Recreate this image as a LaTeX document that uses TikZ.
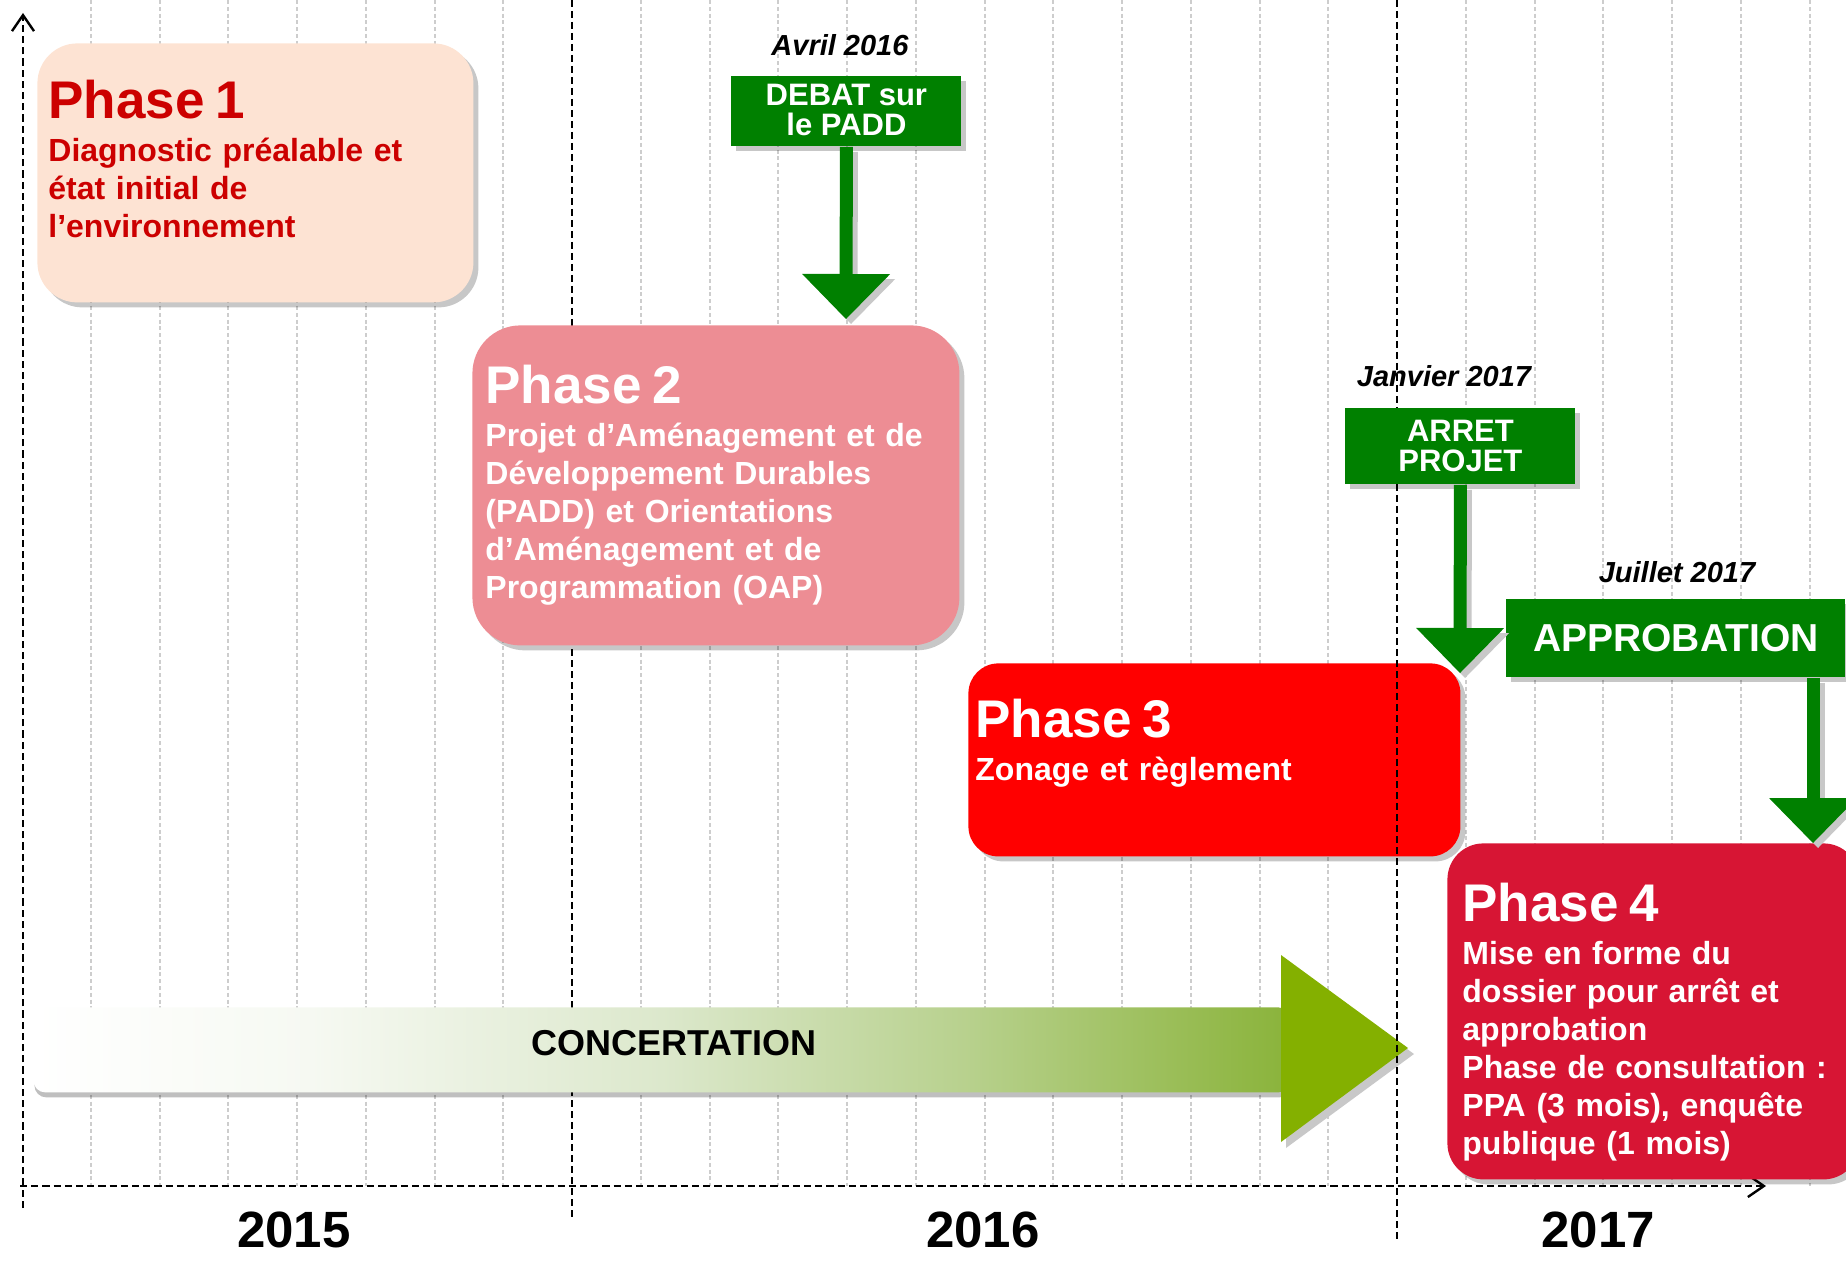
\documentclass[tikz,border=0pt]{standalone}
\usepackage{fontspec}
\setmainfont{Liberation Sans}
\usetikzlibrary{arrows.meta,shadows}

\definecolor{phaseonefill}{RGB}{253,227,211}
\definecolor{phaseonetext}{RGB}{204,0,0}
\definecolor{phasetwofill}{RGB}{237,141,148}
\definecolor{phasethreefill}{RGB}{255,0,0}
\definecolor{phasefourfill}{RGB}{215,21,52}
\definecolor{taggreen}{RGB}{0,128,0}
\definecolor{concerthead}{RGB}{132,176,0}
\definecolor{concertA}{RGB}{246,249,242}
\definecolor{concertB}{RGB}{220,232,204}
\definecolor{concertC}{RGB}{184,209,142}
\definecolor{concertD}{RGB}{138,179,58}
\definecolor{gridgray}{RGB}{205,205,205}
\definecolor{shadowgray}{RGB}{200,200,200}

\pgfdeclarehorizontalshading{concertshade}{100bp}{color(0bp)=(white); color(25bp)=(white); color(36bp)=(concertA); color(50bp)=(concertB); color(62bp)=(concertC); color(75bp)=(concertD); color(100bp)=(concertD)}

\newcommand{\phasetitle}[1]{{\fontsize{26.5}{29}\selectfont #1\par}\vspace{2.5pt}}

\begin{document}
\begin{tikzpicture}[x=0.5pt, y=-0.5pt,
    gridline/.style={gridgray, line width=1pt, dash pattern=on 2pt off 1.4pt},
    yearline/.style={black, line width=1pt, dash pattern=on 3.5pt off 2pt},
    axisline/.style={black, line width=1.2pt, dash pattern=on 3.6pt off 2pt, -{Straight Barb[length=8pt,width=11pt]}},
    boxshadow/.style={drop shadow={shadow xshift=2.5pt, shadow yshift=-2.5pt, opacity=0.22, fill=black}},
    phasebox/.style={anchor=north west, inner sep=0pt, boxshadow},
    phasetext/.style={anchor=north west, inner sep=0pt, text width=230pt, align=left, text=white, font=\bfseries\fontsize{16}{19}\selectfont},
    tagbox/.style={anchor=north west, inner sep=0pt, fill=taggreen, text=white, align=center, font=\bfseries\fontsize{15.5}{15}\selectfont, boxshadow},
    tagarrow/.style={taggreen, line width=6.5pt, -{Triangle[length=22.5pt,width=44pt,line width=0pt]}},
    datelabel/.style={anchor=base, font=\bfseries\itshape\fontsize{14.5}{17}\selectfont},
    yearlabel/.style={anchor=base, font=\bfseries\fontsize{25.5}{28}\selectfont},
    concertbody/.style={anchor=north west, inner sep=0pt, minimum width=628.5pt, minimum height=42.5pt, rounded corners=6pt, shading=concertshade, text depth=6.5pt, font=\bfseries\fontsize{18}{20}\selectfont, drop shadow={shadow xshift=0.5pt, shadow yshift=-2.5pt, opacity=0.25, fill=black}}]
  \useasboundingbox (0,0) rectangle (1846,1261);

  % months
  \foreach \k in {1,...,7,9,10,...,19,21,22,...,26}
    \draw[gridline] (22+68.75*\k,0) -- (22+68.75*\k,1186);

  \coordinate (xstart) at (20,1186);
  \coordinate (xtip) at (1766,1186);
  \coordinate (yfoot) at (23,1208);
  \coordinate (ytip) at (23,13);
  \coordinate (top2016) at (572,0);
  \coordinate (foot2016) at (572,1218);
  \coordinate (top2017) at (1397,0);
  \coordinate (foot2017) at (1397,1242);

  \draw[yearline] (top2016) -- (foot2016);
  \draw[axisline] (yfoot) -- (ytip);
  \draw[axisline] (xstart) -- (xtip);

  \node[yearlabel] (y2015) at (294,1247) {2015};
  \node[yearlabel] (y2016) at (983,1247) {2016};
  \node[yearlabel] (y2017) at (1598,1247) {2017};

  % phases
  \node[phasebox, fill=phaseonefill, rounded corners=20pt, minimum width=218pt, minimum height=129.5pt] (p1) at (37,43) {};
  \node[phasetext, text=phaseonetext] (p1txt) at (48,79.5)
    {\phasetitle{Phase 1}Diagnostic préalable et\\ état initial de\\ l’environnement};

  \node[phasebox, fill=phasetwofill, rounded corners=24pt, minimum width=243.5pt, minimum height=160pt] (p2) at (472,325) {};
  \node[phasetext] (p2txt) at (485,364.5)
    {\phasetitle{Phase 2}Projet d’Aménagement et de\\ Développement Durables\\ (PADD) et Orientations\\ d’Aménagement et de\\ Programmation (OAP)};

  \node[phasebox, fill=phasethreefill, rounded corners=15pt, minimum width=246pt, minimum height=96.5pt] (p3) at (968,663) {};
  \node[phasetext] (p3txt) at (975,698.5)
    {\phasetitle{Phase 3}Zonage et règlement};

  \node[phasebox, fill=phasefourfill, rounded corners=18pt, minimum width=206pt, minimum height=168pt] (p4) at (1447,843) {};
  \node[phasetext] (p4txt) at (1462,882.5)
    {\phasetitle{Phase 4}Mise en forme du\\ dossier pour arrêt et\\ approbation\\ Phase de consultation :\\ PPA (3 mois), enquête\\ publique (1 mois)};

  % concertation
  \node[concertbody] (concert) at (33,1007) {\hspace*{12pt}CONCERTATION};
  \fill[shadowgray] (1286,961) -- (1414,1054) -- (1286,1148) -- cycle;
  \fill[concerthead] (1281,955) -- (1408,1048) -- (1281,1142) -- cycle;

  \draw[yearline] (top2017) -- (foot2017);

  % milestones
  \node[datelabel] (avril) at (840,56) {Avril 2016};
  \node[datelabel] (janvier) at (1444,387) {Janvier 2017};
  \node[datelabel] (juillet) at (1677,582) {Juillet 2017};

  \coordinate (debattip) at (846,319);
  \coordinate (arrettip) at (1460,673);
  \coordinate (approbtip) at (1813,843);

  \node[tagbox, minimum width=115pt, minimum height=35pt, text depth=2pt] (debat) at (731,76) {DEBAT sur\\le PADD};
  \node[tagbox, minimum width=115pt, minimum height=38pt] (arret) at (1345,408) {ARRET\\PROJET};
  \node[tagbox, minimum width=169.5pt, minimum height=39pt, font=\bfseries\fontsize{19.5}{22}\selectfont] (approb) at (1506,599) {APPROBATION};

  \begin{scope}[transform canvas={shift={(5,5)}}]
    \draw[tagarrow, shadowgray] (debat.south) -- (debattip);
    \draw[tagarrow, shadowgray] (arret.south) -- (arrettip);
    \draw[tagarrow, shadowgray] (approb.south -| approbtip) -- (approbtip);
  \end{scope}
  \draw[tagarrow] (debat.south) -- (debattip);
  \draw[tagarrow] (arret.south) -- (arrettip);
  \draw[tagarrow] (approb.south -| approbtip) -- (approbtip);
\end{tikzpicture}
\end{document}
